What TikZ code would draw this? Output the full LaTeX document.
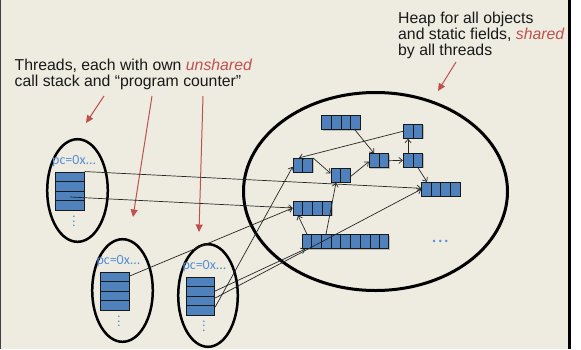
\documentclass[tikz,border=0pt]{standalone}
\usepackage{fontspec}
\setmainfont{Liberation Sans}
\newfontfamily\pcfont{Carlito}
\usetikzlibrary{arrows.meta,calc,shadows}
\definecolor{bgbeige}{RGB}{238,236,225}
\definecolor{cellblue}{RGB}{79,129,189}
\definecolor{accred}{RGB}{192,80,77}
\definecolor{pcblue}{RGB}{85,142,213}
\tikzset{
  txt/.style={anchor=base west, inner sep=0pt, font=\fontsize{15.8}{16}\selectfont, text=black!90},
  redarr/.style={draw=accred, line width=1pt, -{Triangle[length=7.5pt,width=7pt]}},
  ptr/.style={draw=black!85, line width=0.7pt, -{Straight Barb[length=3.5pt,width=6pt]}},
  objshadow/.style={drop shadow={shadow xshift=1pt, shadow yshift=-1pt, fill=black!45, opacity=0.5}},
  obj/.style={rectangle, draw=black!90, fill=cellblue, line width=0.9pt, minimum height=14pt, inner sep=0pt, objshadow},
  stackbox/.style={rectangle, draw=black!90, fill=cellblue, line width=0.9pt, minimum width=28.5pt, minimum height=38pt, inner sep=0pt},
  divline/.style={draw=black!90, line width=0.9pt},
  oval/.style={draw=black, line width=2.5pt},
  heapoval/.style={draw=black, line width=3pt},
  pclabel/.style={font=\pcfont\fontsize{14}{14}\selectfont, text=pcblue, anchor=base west, inner sep=0pt},
  vdots/.style={font=\pcfont\fontsize{13.5}{14}\selectfont, text=pcblue, rotate=90, inner sep=0pt},
}
\newcommand\objcells[2]{%
  \pgfmathtruncatemacro\lastk{#2-1}%
  \foreach \k in {1,...,\lastk}{\draw[divline] ($(#1.north west)!\k/#2!(#1.north east)$) -- ($(#1.south west)!\k/#2!(#1.south east)$);}}
\newcommand\stackcells[1]{%
  \foreach \k in {1,2,3}{\draw[divline] ($(#1.north west)!\k/4!(#1.south west)$) -- ($(#1.north east)!\k/4!(#1.south east)$);}}
\begin{document}
\begin{tikzpicture}[x=1pt,y=-1pt]
\useasboundingbox (0,0) rectangle (581,349);
% background and frame
\fill[bgbeige] (0,0) rectangle (568,349);
\fill[black!75] (0,0) rectangle (1,349);
\fill[black] (568,0) rectangle (571,349);
\fill[white] (571,0) rectangle (581,349);

% texts
\node[txt] (thr1) at (14.5,70) {Threads, each with own \textcolor{accred}{\itshape unshared}};
\node[txt] (thr2) at (14.5,86.3) {call stack and “program counter”};
\node[txt] (hp1) at (398,23.3) {Heap for all objects};
\node[txt] (hp2) at (398,39.5) {and static fields, \textcolor{accred}{\itshape shared}};
\node[txt] (hp3) at (398,55.8) {by all threads};

% red arrows
\coordinate (ra1s) at (104,96);  \coordinate (ra1e) at (86,123);
\coordinate (ra2s) at (152,96);  \coordinate (ra2e) at (133,217);
\coordinate (ra3s) at (203,96);  \coordinate (ra3e) at (199,232);
\coordinate (ra4s) at (456,62);  \coordinate (ra4e) at (438,91);
\draw[redarr] (ra1s) -- (ra1e);
\draw[redarr] (ra2s) -- (ra2e);
\draw[redarr] (ra3s) -- (ra3e);
\draw[redarr] (ra4s) -- (ra4e);

% ovals
\draw[heapoval] (375.5,191.5) ellipse [x radius=132, y radius=99];
\draw[oval] (77.5,190.5) ellipse [x radius=30.3, y radius=51.3];
\draw[oval] (122.5,290.5) ellipse [x radius=30.3, y radius=51.3];
\draw[oval] (208,295.5) ellipse [x radius=29.8, y radius=51.3];

% thread contents
\node[pclabel] (pc1) at (52,164.3) {pc=0x...};
\node[pclabel] (pc2) at (96.3,264.3) {pc=0x...};
\node[pclabel] (pc3) at (182.3,269.3) {pc=0x...};
\node[stackbox] (s1) at (70,191) {};
\node[stackbox] (s2) at (115,291) {};
\node[stackbox] (s3) at (200.5,296) {};
\stackcells{s1}\stackcells{s2}\stackcells{s3}
\node[vdots] (vd1) at (74,221.5) {.\kern1.2pt.\kern1.2pt.};
\node[vdots] (vd2) at (119,321.5) {.\kern1.2pt.\kern1.2pt.};
\node[vdots] (vd3) at (204,326) {.\kern1.2pt.\kern1.2pt.};

% heap objects
\node[obj, minimum width=38.4pt] (top4) at (341,122.5) {};
\node[obj, minimum width=19.4pt] (tr2) at (413,131.3) {};
\node[obj, minimum width=19.4pt] (l2) at (302.8,165.3) {};
\node[obj, minimum width=19.4pt] (c2) at (340.7,175.3) {};
\node[obj, minimum width=19.4pt] (m2) at (379,160.7) {};
\node[obj, minimum width=19.4pt] (r2) at (413,160.3) {};
\node[obj, minimum width=38.4pt] (r4) at (440.8,189.3) {};
\node[obj, minimum width=38.4pt] (l4) at (312.3,208) {};
\node[obj, minimum width=86.4pt] (bot9) at (345.7,241.7) {};
\objcells{top4}{4}\objcells{tr2}{2}\objcells{l2}{2}\objcells{c2}{2}\objcells{m2}{2}
\objcells{r2}{2}\objcells{r4}{4}\objcells{l4}{4}\objcells{bot9}{9}
\node[font=\pcfont\fontsize{20}{20}\selectfont, text=pcblue, anchor=base, inner sep=0pt] (hdots) at (440.3,242) {.\kern1pt.\kern1pt.};

% references inside the heap
\draw[ptr] ([xshift=14pt]top4.south) -- ([xshift=-5pt]m2.north);
\draw[ptr] (m2.east) -- (r2.west);
\draw[ptr] ([xshift=-5pt]r2.north) -- ([xshift=-5pt]tr2.south);
\draw[ptr] ([xshift=5pt]r2.south) -- ([xshift=-13.8pt]r4.north);
\draw[ptr] (tr2.west) -- ([xshift=-3.8pt]l2.north);
\draw[ptr] (l2.north east) -- ([yshift=2pt]c2.west);
\draw[ptr] ([yshift=-1pt]c2.east) -- ([yshift=-1pt]m2.west);
\draw[ptr] ([xshift=-38.7pt]bot9.north) -- ([xshift=-14.3pt]l4.south);
\draw[ptr] ([xshift=-19.7pt]bot9.north) -- ([xshift=-4.7pt]c2.south);

% references from the stacks
\draw[ptr] (s1.north east) -- ([yshift=1pt]r4.west);
\draw[ptr] ([yshift=-6pt]s1.center) -- (l4.west);
\draw[ptr] ([yshift=15pt]s2.east) -- (l4.west);
\draw[ptr] ([yshift=5pt]s3.east) -- ([xshift=3pt]bot9.south west);
\draw[ptr] ([yshift=-2pt]s3.east) -- (r4.west);
\draw[ptr] ([yshift=-11pt]s3.east) -- ([yshift=-1.5pt]l2.west);
\end{tikzpicture}
\end{document}
